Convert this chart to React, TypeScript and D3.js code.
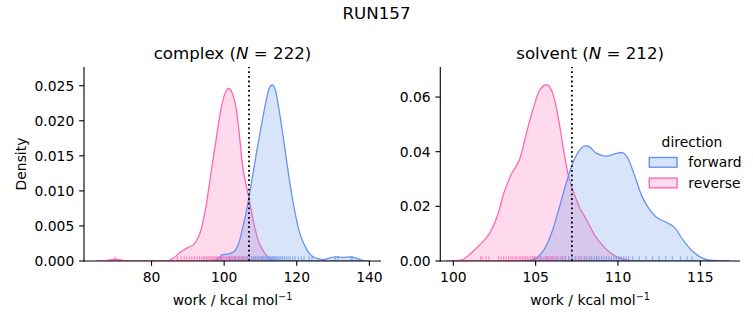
import React from 'react';
import * as d3 from 'd3';

// ---------- DATA ----------
const FIG_TITLE = 'RUN157';
const PANEL_NAMES = ['complex', 'solvent'];
const PANEL_N = [222, 212];
const HUE_LEVELS = ['forward', 'reverse'];
const LEGEND_TITLE = 'direction';
const X_LABEL = 'work / kcal mol';
const Y_LABEL = 'Density';

// KDE curves: [work, density]
const complexReverseCurve: [number, number][] = [
  [64.5, 0], [67, 0.00003], [69, 0.0002], [70.1, 0.00025], [71.5, 0.00015], [73, 0.00003], [76, 0],
  [84.3, 0.00002], [86, 0.0004], [88, 0.0013], [90, 0.0019], [91.7, 0.0024], [92.7, 0.0032],
  [93.5, 0.0042], [94.9, 0.0075], [96.3, 0.0123], [97.7, 0.017], [99.0, 0.0213], [100.4, 0.0241],
  [101.3, 0.0246], [102.2, 0.024], [102.9, 0.0228], [103.4, 0.0215], [104.2, 0.018], [105.1, 0.0135],
  [106.5, 0.0098], [107.9, 0.0061], [109.2, 0.0032], [110.6, 0.0016], [112.0, 0.0006], [113.4, 0.0001], [115, 0],
];
const complexForwardCurve: [number, number][] = [
  [97, 0], [98.5, 0.0004], [99.5, 0.0009], [101, 0.001], [102.3, 0.0012], [103.3, 0.0017],
  [104.2, 0.0028], [105.0, 0.0045], [106.0, 0.0068], [107.4, 0.0108], [108.8, 0.0151], [110.1, 0.0189],
  [111.5, 0.0227], [112.4, 0.0246], [113.2, 0.0251], [114.1, 0.0244], [115.2, 0.0213], [116.6, 0.0165],
  [117.9, 0.0118], [119.3, 0.0075], [120.7, 0.0042], [122.1, 0.0023], [123.4, 0.0011], [125.3, 0.0004],
  [127.1, 0.0002], [128.9, 0.0004], [130.8, 0.0006], [132.6, 0.0005], [134.9, 0.0006], [136.3, 0.0004],
  [138.1, 0.0001], [140, 0],
];
const solventReverseCurve: [number, number][] = [
  [99.6, 0], [100.3, 0.0002], [100.6, 0.0006], [101.0, 0.0024], [101.4, 0.0047], [101.8, 0.0071],
  [102.2, 0.0101], [102.7, 0.0169], [103.05, 0.0245], [103.5, 0.0315], [104.05, 0.0376], [104.46, 0.0472],
  [104.86, 0.056], [105.26, 0.0627], [105.67, 0.0645], [106.07, 0.0608], [106.38, 0.0523], [106.68, 0.0413],
  [106.98, 0.0315], [107.29, 0.0254], [107.69, 0.0193], [108.1, 0.015], [108.58, 0.0095], [109.0, 0.0062],
  [109.5, 0.0032], [110.0, 0.0013], [110.5, 0.0004], [111.2, 0],
];
const solventForwardCurve: [number, number][] = [
  [104.2, 0], [104.86, 0.0005], [105.26, 0.0022], [105.67, 0.0059], [106.07, 0.012], [106.48, 0.0205],
  [106.88, 0.029], [107.29, 0.0364], [107.69, 0.0407], [108.0, 0.0421], [108.18, 0.042], [108.68, 0.0395],
  [109.29, 0.0384], [109.8, 0.0392], [110.2, 0.0397], [110.6, 0.0376], [111.0, 0.0315], [111.42, 0.0242],
  [111.82, 0.0197], [112.33, 0.016], [112.93, 0.0142], [113.44, 0.0122], [113.95, 0.0077], [114.45, 0.004],
  [114.96, 0.0016], [115.46, 0.0004], [116.27, 0.0001], [116.8, 0],
];

// rug samples (estimated from the tick marks)
const complexReverseRug = [
  70.0, 87.1, 88.2, 89.0, 89.6, 90.4, 91.1, 91.8, 92.5, 93.2, 93.8, 94.3, 94.7, 95.1, 95.5, 95.9, 96.2,
  96.6, 96.9, 97.2, 97.5, 97.8, 98.1, 98.4, 98.7, 99.0, 99.3, 99.6, 99.9, 100.2, 100.5, 100.8, 101.1,
  101.4, 101.7, 102.0, 102.3, 102.6, 102.9, 103.2, 103.6, 104.0, 104.4, 104.8, 105.3, 105.8, 106.3,
  106.9, 107.6, 108.4, 109.3, 110.5,
];
const complexForwardRug = [
  99.2, 101.5, 103.0, 104.0, 105.0, 105.7, 106.4, 107.0, 107.6, 108.1, 108.6, 109.1, 109.6, 110.0,
  110.4, 110.8, 111.2, 111.5, 111.8, 112.1, 112.4, 112.7, 113.0, 113.3, 113.6, 113.9, 114.2, 114.5,
  114.9, 115.3, 115.7, 116.1, 116.6, 117.1, 117.6, 118.2, 118.9, 119.6, 120.4, 121.3, 122.0, 123.4,
  124.2, 130.6, 131.3, 134.9, 135.3,
];
const solventReverseRug = [
  101.65, 101.75, 102.0, 102.15, 102.75, 102.9, 103.05, 103.2, 103.35, 103.5, 103.6, 103.75, 103.85,
  104.0, 104.1, 104.2, 104.3, 104.4, 104.5, 104.6, 104.7, 104.8, 104.9, 105.0, 105.1, 105.2, 105.3,
  105.4, 105.5, 105.6, 105.7, 105.8, 105.9, 106.0, 106.1, 106.2, 106.35, 106.5, 106.65, 106.8, 107.0,
  107.2, 107.45, 107.7, 108.0, 108.3, 108.7,
];
const solventForwardRug = [
  104.9, 105.3, 105.7, 106.0, 106.3, 106.6, 106.8, 107.0, 107.2, 107.4, 107.6, 107.8, 107.95, 108.1,
  108.25, 108.4, 108.55, 108.7, 108.85, 109.0, 109.15, 109.3, 109.45, 109.6, 109.75, 109.9, 110.05,
  110.2, 110.35, 110.5, 110.65, 110.9, 111.3, 111.7, 112.1, 112.5, 112.9, 113.3, 113.8, 114.2, 114.5,
];

// vertical dotted reference lines
const REF_LINES = [106.84, 107.2];

// axis domains & ticks
const complexXDomain: [number, number] = [61.4, 143.2];
const solventXDomain: [number, number] = [99.21, 117.41];
const complexYMax = 0.02767;
const solventYMax = 0.071;
const complexXTicks = [80, 100, 120, 140];
const solventXTicks = [100, 105, 110, 115];
const complexYTicks = [0, 0.005, 0.01, 0.015, 0.02, 0.025];
const solventYTicks = [0, 0.02, 0.04, 0.06];

// ---------- STYLE / LAYOUT ----------
const W = 753;
const H = 325;
const FONT = 'DejaVu Sans, sans-serif';
const COLORS: Record<string, string> = { forward: '#6495ED', reverse: '#FF69B4' };
const TOP = 67;
const BOTTOM = 261;
const TICK = 4.86;
const PAD = 4.86;
const FS = 13.89;
const TITLE_FS = 16.67;

const panels = [
  {
    name: PANEL_NAMES[0], n: PANEL_N[0], x0: 84, x1: 381,
    xDomain: complexXDomain, yMax: complexYMax, xTicks: complexXTicks, yTicks: complexYTicks, yFmt: '.3f',
    curves: { forward: complexForwardCurve, reverse: complexReverseCurve },
    rugs: { forward: complexForwardRug, reverse: complexReverseRug },
    ref: REF_LINES[0], showYLabel: true,
  },
  {
    name: PANEL_NAMES[1], n: PANEL_N[1], x0: 440.3, x1: 740,
    xDomain: solventXDomain, yMax: solventYMax, xTicks: solventXTicks, yTicks: solventYTicks, yFmt: '.2f',
    curves: { forward: solventForwardCurve, reverse: solventReverseCurve },
    rugs: { forward: solventForwardRug, reverse: solventReverseRug },
    ref: REF_LINES[1], showYLabel: false,
  },
];

function Panel({ p }: { p: typeof panels[number] }) {
  const x = d3.scaleLinear().domain(p.xDomain).range([p.x0, p.x1]);
  const y = d3.scaleLinear().domain([0, p.yMax]).range([BOTTOM, TOP]);
  const area = d3
    .area<[number, number]>()
    .x((d) => x(d[0]))
    .y0(y(0))
    .y1((d) => y(d[1]))
    .curve(d3.curveMonotoneX);
  const fmt = d3.format(p.yFmt);
  const rugH = (BOTTOM - TOP) * 0.025;
  const drawOrder = ['reverse', 'forward'];
  const cx = (p.x0 + p.x1) / 2;
  const clipId = `clip-${p.name}`;
  return (
    <g>
      <defs>
        <clipPath id={clipId}>
          <rect x={p.x0} y={TOP} width={p.x1 - p.x0} height={BOTTOM - TOP} />
        </clipPath>
      </defs>
      <g clipPath={`url(#${clipId})`}>
        {drawOrder.map((k) => (
          <path
            key={k}
            d={area((p.curves as any)[k]) || ''}
            fill={COLORS[k]}
            fillOpacity={0.25}
            stroke={COLORS[k]}
            strokeWidth={1.3}
          />
        ))}
        {drawOrder.map((k) => (
          <g key={'rug' + k}>
            {((p.rugs as any)[k] as number[]).map((v, i) => (
              <line
                key={i}
                x1={x(v)}
                x2={x(v)}
                y1={BOTTOM}
                y2={BOTTOM - rugH}
                stroke={COLORS[k]}
                strokeOpacity={0.65}
                strokeWidth={1.2}
              />
            ))}
          </g>
        ))}
        <line
          x1={x(p.ref)}
          x2={x(p.ref)}
          y1={BOTTOM}
          y2={TOP}
          stroke="#000"
          strokeWidth={1.8}
          strokeDasharray="1.8,2.9"
        />
      </g>
      {/* spines */}
      <line x1={p.x0} x2={p.x0} y1={TOP} y2={BOTTOM + 0.55} stroke="#000" strokeWidth={1.11} />
      <line x1={p.x0 - 0.55} x2={p.x1} y1={BOTTOM} y2={BOTTOM} stroke="#000" strokeWidth={1.11} />
      {/* x ticks */}
      {p.xTicks.map((t) => (
        <g key={'xt' + t}>
          <line x1={x(t)} x2={x(t)} y1={BOTTOM} y2={BOTTOM + TICK} stroke="#000" strokeWidth={1.11} />
          <text x={x(t)} y={BOTTOM + TICK + PAD + 10.9} textAnchor="middle" fontSize={FS} fontFamily={FONT}>
            {t}
          </text>
        </g>
      ))}
      {/* y ticks */}
      {p.yTicks.map((t) => (
        <g key={'yt' + t}>
          <line x1={p.x0 - TICK} x2={p.x0} y1={y(t)} y2={y(t)} stroke="#000" strokeWidth={1.11} />
          <text
            x={p.x0 - TICK - PAD}
            y={y(t) + 5}
            textAnchor="end"
            fontSize={FS}
            fontFamily={FONT}
          >
            {fmt(t)}
          </text>
        </g>
      ))}
      {/* x label */}
      <text x={cx} y={305} textAnchor="middle" fontSize={FS} fontFamily={FONT}>
        {X_LABEL}
        <tspan fontSize={9.7} dy={-5.5}>−1</tspan>
      </text>
      {/* title */}
      <text x={cx} y={59} textAnchor="middle" fontSize={TITLE_FS} fontFamily={FONT}>
        {p.name} (<tspan fontStyle="italic">N</tspan> = {p.n})
      </text>
      {p.showYLabel && (
        <text
          transform={`translate(26,${(TOP + BOTTOM) / 2}) rotate(-90)`}
          textAnchor="middle"
          fontSize={FS}
          fontFamily={FONT}
        >
          {Y_LABEL}
        </text>
      )}
    </g>
  );
}

function Legend() {
  const lx = 649.3;
  return (
    <g fontFamily={FONT} fontSize={FS}>
      <text x={692} y={147} textAnchor="middle">{LEGEND_TITLE}</text>
      {HUE_LEVELS.map((k, i) => (
        <g key={k}>
          <rect
            x={lx}
            y={157.5 + i * 20.6}
            width={27.8}
            height={9.7}
            fill={COLORS[k]}
            fillOpacity={0.25}
            stroke={COLORS[k]}
            strokeWidth={1.4}
          />
          <text x={688.3} y={166.9 + i * 20.6}>{k}</text>
        </g>
      ))}
    </g>
  );
}

export default function App() {
  return (
    <svg
      width={W}
      height={H}
      viewBox={`0 0 ${W} ${H}`}
      style={{ position: 'absolute', left: 0, top: 0, background: '#fff' }}
    >
      <rect width={W} height={H} fill="#fff" />
      <text x={W / 2} y={19} textAnchor="middle" fontSize={TITLE_FS} fontFamily={FONT}>
        {FIG_TITLE}
      </text>
      {panels.map((p) => (
        <Panel key={p.name} p={p} />
      ))}
      <Legend />
    </svg>
  );
}
